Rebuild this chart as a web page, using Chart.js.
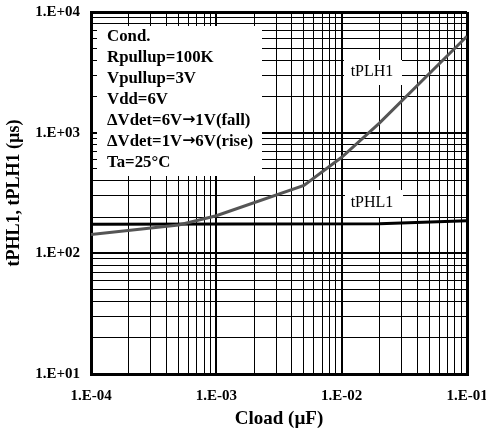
<!DOCTYPE html>
<html>
<head>
<meta charset="utf-8">
<script src="https://cdn.jsdelivr.net/npm/chart.js@4"></script>
<style>
  html, body { margin: 0; padding: 0; background: #fff; }
  canvas { display: block; }
</style>
</head>
<body>
<canvas id="myChart" width="486" height="437"></canvas>
<script>
// (log-log)
var cloadPLH = [1e-4, 5e-4, 1e-3, 5e-3, 1e-2, 2e-2, 1e-1];
var tPLH1 = [143, 172, 205, 365, 625, 1200, 6300];
var cloadPHL = [1e-4, 2e-2, 1e-1];
var tPHL1 = [174, 176, 186];

var xDecades = [1e-4, 1e-3, 1e-2, 1e-1];
var xTickLabels = ["1.E-04", "1.E-03", "1.E-02", "1.E-01"];
var yDecades = [1e1, 1e2, 1e3, 1e4];
var yTickLabels = ["1.E+01", "1.E+02", "1.E+03", "1.E+04"];

var curveNames = ["tPLH1", "tPHL1"];
var condLines = [
    "Cond.",
    "Rpullup=100K",
    "Vpullup=3V",
    "Vdd=6V",
    "\u0394Vdet=6V\u21921V(fall)",
    "\u0394Vdet=1V\u21926V(rise)",
    "Ta=25\u00B0C"
];

var serif = "'Liberation Serif', 'Times New Roman', serif";
var ARROW = "\u2192";

function logTicks(decades) {
    var t = [];
    for (var i = 0; i < decades.length - 1; i++) {
        for (var m = 1; m <= 9; m++) t.push({ value: m * decades[i] });
    }
    t.push({ value: decades[decades.length - 1] });
    return t;
}

function decadeIndex(v, decades) {
    return decades.findIndex(function (d) { return Math.abs(v / d - 1) < 1e-6; });
}

function gridWidth(decades) {
    return function (c) {
        if (!c.tick) return 1;
        var i = decadeIndex(c.tick.value, decades);
        if (i < 0) return 1;
        if (i == 0 || i == decades.length - 1) return 3;
        return 2;
    };
}

// text with the arrow taken from a sans font (bolder, like the original)
function drawCondLine(c, text) {
    var parts = text.split(ARROW);
    var x = 0;
    parts.forEach(function (p, k) {
        c.font = "bold 16px " + serif;
        c.fillText(p, x, 0);
        x += c.measureText(p).width;
        if (k < parts.length - 1) {
            c.font = "bold 15px 'DejaVu Sans'";
            c.fillText(ARROW, x, -1);
            x += c.measureText(ARROW).width;
        }
    });
}

var notes = {
    id: "notes",
    beforeDatasetsDraw: function (chart) {
        var c = chart.ctx, a = chart.chartArea;
        c.save();
        c.fillStyle = "#fff";
        c.fillRect(a.left + 6, a.top + 14, 165, 150);
        c.fillRect(a.left + 253, a.top + 48, 58, 25);
        c.fillRect(a.left + 254, a.top + 178, 58, 27);

        c.fillStyle = "#000";
        c.textBaseline = "alphabetic";
        condLines.forEach(function (t, i) {
            c.save();
            c.translate(a.left + 16, a.top + 29 + i * 21);
            c.scale(1.05, 1);
            drawCondLine(c, t);
            c.restore();
        });

        c.font = "16px " + serif;
        c.textAlign = "center";
        c.textBaseline = "middle";
        c.fillText(curveNames[0], a.left + 281, a.top + 60);
        c.fillText(curveNames[1], a.left + 281, a.top + 191);
        c.restore();
    }
};

const ctx = document.getElementById("myChart");
new Chart(ctx, {
    type: "line",
    data: {
        datasets: [{
            label: curveNames[0],
            data: cloadPLH.map(function (x, i) { return { x: x, y: tPLH1[i] }; }),
            borderColor: "#555555",
            borderWidth: 3,
            pointRadius: 0,
            fill: false
        }, {
            label: curveNames[1],
            data: cloadPHL.map(function (x, i) { return { x: x, y: tPHL1[i] }; }),
            borderColor: "#000000",
            borderWidth: 3,
            pointRadius: 0,
            fill: false
        }]
    },
    options: {
        responsive: false,
        animation: false,
        layout: { padding: { left: 0, top: 12, right: 19, bottom: 0 } },
        plugins: {
            legend: { display: false },
            tooltip: { enabled: false }
        },
        scales: {
            x: {
                type: "logarithmic",
                min: 1e-4,
                max: 1e-1,
                afterBuildTicks: function (s) { s.ticks = logTicks(xDecades); },
                afterFit: function (s) { s.height = 63; s.paddingLeft = 0; s.paddingRight = 0; },
                grid: { color: "#000", lineWidth: gridWidth(xDecades), drawTicks: false },
                border: { color: "#000", width: 3 },
                ticks: {
                    autoSkip: false,
                    maxRotation: 0,
                    padding: 13,
                    color: "#000",
                    font: { family: serif, weight: "bold", size: 15 },
                    callback: function (v) {
                        var i = decadeIndex(v, xDecades);
                        return i < 0 ? "" : xTickLabels[i];
                    }
                },
                title: {
                    display: true,
                    text: "Cload (\u00B5F)",
                    color: "#000",
                    font: { family: serif, weight: "bold", size: 19 },
                    padding: { top: 0, bottom: 7 }
                }
            },
            y: {
                type: "logarithmic",
                min: 10,
                max: 10000,
                afterBuildTicks: function (s) { s.ticks = logTicks(yDecades); },
                afterFit: function (s) { s.width = 91; s.paddingTop = 0; s.paddingBottom = 0; },
                grid: { color: "#000", lineWidth: gridWidth(yDecades), drawTicks: false },
                border: { color: "#000", width: 3 },
                ticks: {
                    autoSkip: false,
                    padding: 11,
                    color: "#000",
                    font: { family: serif, weight: "bold", size: 15 },
                    callback: function (v) {
                        var i = decadeIndex(v, yDecades);
                        return i < 0 ? "" : yTickLabels[i];
                    }
                },
                title: {
                    display: true,
                    text: "tPHL1, tPLH1 (\u00B5s)",
                    color: "#000",
                    font: { family: serif, weight: "bold", size: 18 },
                    padding: { top: 4, bottom: 0 }
                }
            }
        }
    },
    plugins: [notes]
});
</script>
</body>
</html>
